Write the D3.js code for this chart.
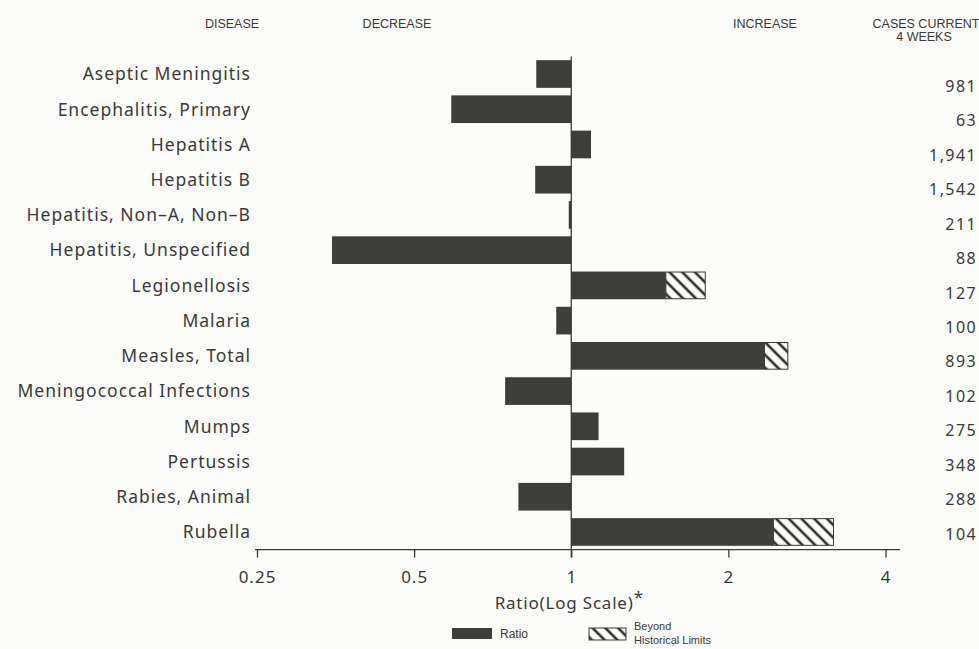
<!DOCTYPE html>
<html>
<head>
<meta charset="utf-8">
<script src="https://cdn.jsdelivr.net/npm/d3@7"></script>
<style>
  html, body { margin: 0; padding: 0; background: #fcfcfa; }
  svg { display: block; }
  .lbl { font-family: "Noto Sans", "DejaVu Sans", sans-serif; fill: #3a3a38; }
  .hdr { font-family: "Liberation Sans Narrow", "Liberation Sans", sans-serif; font-stretch: condensed; fill: #3a3a38; }
  .leg { font-family: "Liberation Sans", sans-serif; fill: #3a3a38; font-size: 11px; }
</style>
</head>
<body>
<div id="chart"></div>
<script>
// data
const diseases = [
  "Aseptic Meningitis", "Encephalitis, Primary", "Hepatitis A", "Hepatitis B",
  "Hepatitis, Non-A, Non-B", "Hepatitis, Unspecified", "Legionellosis", "Malaria",
  "Measles, Total", "Meningococcal Infections", "Mumps", "Pertussis",
  "Rabies, Animal", "Rubella"
];
// ratio of current 4 weeks to historical (log scale)
const ratios = [0.857, 0.589, 1.091, 0.853, 0.989, 0.348, 1.518, 0.936, 2.345, 0.747, 1.128, 1.263, 0.792, 2.44];
// where bar goes beyond historical limits: end of the hatched piece (null = none)
const beyondEnd = [null, null, null, null, null, null, 1.806, null, 2.60, null, null, null, null, 3.18];
const cases = ["981", "63", "1,941", "1,542", "211", "88", "127", "100", "893", "102", "275", "348", "288", "104"];
const tickVals = [0.25, 0.5, 1, 2, 4];
const tickLabels = ["0.25", "0.5", "1", "2", "4"];

const W = 979, H = 649;
const svg = d3.select("#chart").append("svg").attr("width", W).attr("height", H);

const defs = svg.append("defs");
defs.append("pattern")
  .attr("id", "hatch")
  .attr("patternUnits", "userSpaceOnUse")
  .attr("width", 9).attr("height", 9)
  .attr("patternTransform", "rotate(-45)")
  .call(p => {
    p.append("rect").attr("width", 9).attr("height", 9).attr("fill", "#fcfcfa");
    p.append("line").attr("x1", 2).attr("x2", 2).attr("y1", 0).attr("y2", 9)
      .attr("stroke", "#2e2e2c").attr("stroke-width", 2.6);
  });

// scales
const x = d3.scaleLog().base(2).domain([0.25, 4]).range([257, 885.5]);
const y = d3.scaleBand().domain(diseases).range([56.4, 549.6]).paddingInner(0.214).paddingOuter(0.107);
// case counts sit on their own, slightly tighter spacing
const yCases = d3.scalePoint().domain(diseases).range([86, 534]);
const x0 = x(1);
const barColor = "#3e3e3b";

// headers
const hdr = svg.append("g").attr("class", "hdr").style("font-size", "12.5px").attr("text-anchor", "middle");
hdr.append("text").attr("x", 232).attr("y", 28).text("DISEASE");
hdr.append("text").attr("x", 397).attr("y", 28).text("DECREASE");
hdr.append("text").attr("x", 765).attr("y", 28).text("INCREASE");
hdr.append("text").attr("x", 926).attr("y", 28).text("CASES CURRENT");
hdr.append("text").attr("x", 924).attr("y", 41).text("4 WEEKS");

// ratio bars
const rows = diseases.map((d, i) => ({ name: d, ratio: ratios[i], beyond: beyondEnd[i], cases: cases[i] }));

svg.append("g").selectAll("rect")
  .data(rows)
  .join("rect")
  .attr("x", d => Math.min(x(d.ratio), x0))
  .attr("y", d => y(d.name))
  .attr("width", d => Math.max(1, Math.abs(x(d.ratio) - x0)))
  .attr("height", y.bandwidth())
  .attr("fill", barColor);

// beyond historical limits
svg.append("g").selectAll("rect")
  .data(rows.filter(d => d.beyond !== null))
  .join("rect")
  .attr("x", d => x(d.ratio))
  .attr("y", d => y(d.name) + 0.5)
  .attr("width", d => x(d.beyond) - x(d.ratio))
  .attr("height", y.bandwidth() - 1)
  .attr("fill", "url(#hatch)")
  .attr("stroke", "#3a3a38")
  .attr("stroke-width", 1);

// baseline at 1
svg.append("line")
  .attr("x1", x0).attr("x2", x0)
  .attr("y1", y.range()[0]).attr("y2", y.range()[1] + 8)
  .attr("stroke", "#3a3a38").attr("stroke-width", 1.3);

// disease labels
svg.append("g").attr("class", "lbl").style("font-size", "17.5px").style("letter-spacing", "1px")
  .attr("text-anchor", "end")
  .selectAll("text")
  .data(rows)
  .join("text")
  .attr("x", 251)
  .attr("y", d => y(d.name) + y.bandwidth() / 2)
  .attr("dy", "0.36em")
  .text(d => d.name.replace(/-/g, "\u2013"));

// case counts
svg.append("g").attr("class", "lbl").style("font-size", "16px").style("letter-spacing", "1.4px")
  .attr("text-anchor", "end")
  .selectAll("text")
  .data(rows)
  .join("text")
  .attr("x", 977)
  .attr("y", d => yCases(d.name))
  .attr("dy", "0.36em")
  .text(d => d.cases);

// x axis
const axisY = y.range()[1];
const axis = d3.axisBottom(x)
  .tickValues(tickVals)
  .tickFormat((d, i) => tickLabels[i])
  .tickSize(8)
  .tickSizeOuter(0);
const ax = svg.append("g").attr("transform", `translate(0,${axisY})`).call(axis);
ax.select(".domain").attr("d", `M255,0H900`).attr("stroke", "#3a3a38").attr("stroke-width", 1.3);
ax.selectAll(".tick line").attr("stroke", "#3a3a38").attr("stroke-width", 1.3);
ax.selectAll(".tick text")
  .attr("class", "lbl")
  .attr("y", 21)
  .style("font-size", "17px")
  .style("letter-spacing", "1px");

// axis title
const title = svg.append("text").attr("class", "lbl").style("font-size", "17px").style("letter-spacing", "0.8px")
  .attr("x", x0 - 2).attr("y", 609).attr("text-anchor", "middle");
title.append("tspan").text("Ratio(Log Scale)");
title.append("tspan").attr("dy", -6).text("*");

// legend
const leg = svg.append("g");
leg.append("rect").attr("x", 452).attr("y", 628).attr("width", 40).attr("height", 11).attr("fill", barColor);
leg.append("text").attr("class", "leg").style("font-size", "12px").attr("x", 500).attr("y", 638).text("Ratio");
leg.append("rect").attr("x", 589).attr("y", 628).attr("width", 37).attr("height", 12)
  .attr("fill", "url(#hatch)").attr("stroke", "#3a3a38").attr("stroke-width", 1);
leg.append("text").attr("class", "leg").attr("x", 634).attr("y", 630).text("Beyond");
leg.append("text").attr("class", "leg").attr("x", 634).attr("y", 644).text("Historical Limits");
</script>
</body>
</html>
